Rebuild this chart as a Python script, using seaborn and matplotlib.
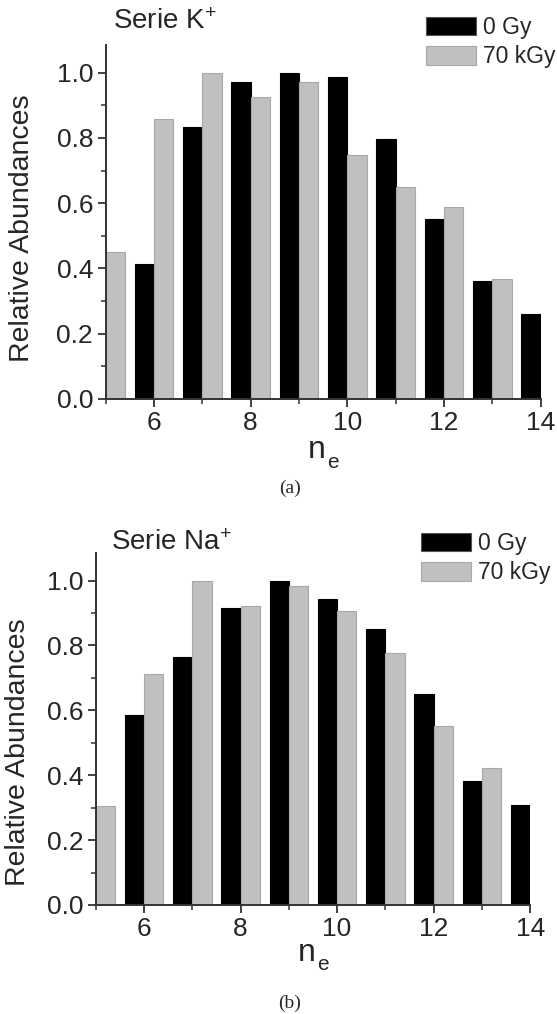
import numpy as np
import pandas as pd
import matplotlib
matplotlib.use("Agg")
import matplotlib.pyplot as plt
from matplotlib.patches import Patch
from matplotlib.ticker import MultipleLocator
import seaborn as sns

# ---- data ----
ne_0gy = [6, 7, 8, 9, 10, 11, 12, 13, 14]
ne_70kgy = [5, 6, 7, 8, 9, 10, 11, 12, 13]

k_0gy = [0.414, 0.833, 0.972, 1.000, 0.987, 0.798, 0.553, 0.363, 0.262]
k_70kgy = [0.452, 0.858, 1.000, 0.926, 0.972, 0.747, 0.650, 0.588, 0.369]

na_0gy = [0.586, 0.765, 0.916, 1.000, 0.944, 0.850, 0.649, 0.381, 0.307]
na_70kgy = [0.304, 0.712, 1.000, 0.921, 0.984, 0.905, 0.778, 0.552, 0.422]

doses = ["0 Gy", "70 kGy"]
x_ticks = [6, 8, 10, 12, 14]
y_ticks = [0.0, 0.2, 0.4, 0.6, 0.8, 1.0]

face = {"0 Gy": "#000000", "70 kGy": "#c0c0c0"}
edge = {"0 Gy": "#000000", "70 kGy": "#a8a8a8"}

sns.set_style("ticks")
plt.rcParams["font.family"] = ["Liberation Sans", "DejaVu Sans"]
plt.rcParams["mathtext.default"] = "regular"

W, H = 557, 1014


def make_frame(v0, v70):
    # 0 Gy bar sits just left of n_e, 70 kGy bar just right of it
    d0 = pd.DataFrame({"pos": np.array(ne_0gy) - 0.2, "val": v0, "dose": doses[0]})
    d1 = pd.DataFrame({"pos": np.array(ne_70kgy) + 0.2, "val": v70, "dose": doses[1]})
    return pd.concat([d0, d1], ignore_index=True)


def draw_panel(fig, rect, v0, v70, title, caption, px):
    # px: pixel positions for texts (title x, title y, legend x, legend y,
    #     ylabel x, ylabel y, xlabel y, caption y)
    ax = fig.add_axes(rect)
    df = make_frame(v0, v70)
    sns.barplot(data=df, x="pos", y="val", hue="dose", hue_order=doses,
                palette=face, native_scale=True, dodge=False, width=1.0,
                errorbar=None, saturation=1, legend=False, ax=ax)
    for cont, d in zip(ax.containers, doses):
        for bar in cont:
            bar.set_edgecolor(edge[d])
            bar.set_linewidth(0.8)

    ax.set_xlim(5, 14)
    ax.set_ylim(0, 1.085)
    ax.set_xticks(x_ticks)
    ax.set_xticklabels([str(t) for t in x_ticks])
    ax.set_yticks(y_ticks)
    ax.set_yticklabels([f"{t:.1f}" for t in y_ticks])
    ax.xaxis.set_minor_locator(MultipleLocator(1))
    ax.yaxis.set_minor_locator(MultipleLocator(0.1))
    ax.tick_params(which="major", direction="out", length=6, width=1.3,
                   color="#333333", labelsize=19, pad=3)
    ax.tick_params(which="minor", direction="out", length=3.5, width=1.1,
                   color="#333333")
    for s in ["top", "right"]:
        ax.spines[s].set_visible(False)
    for s in ["left", "bottom"]:
        ax.spines[s].set_linewidth(1.4)
        ax.spines[s].set_color("#333333")

    ax.set_xlabel("")
    ax.set_ylabel("")
    fig.text(px[4] / W, 1 - px[5] / H, "Relative Abundances", rotation=90,
             ha="center", va="center", fontsize=20.5)
    # n with a deep subscript e
    xc = (rect[0] + rect[2] / 2) * W
    fig.text((xc + 3) / W, 1 - px[6] / H, "n", ha="right", va="center", fontsize=23)
    fig.text((xc + 4) / W, 1 - (px[6] + 12) / H, "e", ha="left", va="center", fontsize=15)
    fig.text(0.52, 1 - px[7] / H, caption, ha="center", va="center",
             fontsize=14, family=["Liberation Serif", "DejaVu Serif"])
    fig.text(px[0] / W, 1 - px[1] / H, title, ha="left", va="center", fontsize=20)

    handles = [Patch(facecolor=face[d], edgecolor=edge[d] if d != "0 Gy" else "#555555",
                     linewidth=0.8) for d in doses]
    ax.legend(handles=handles, labels=doses, loc="upper left",
              bbox_to_anchor=(px[2] / W, 1 - px[3] / H), bbox_transform=fig.transFigure,
              frameon=False, fontsize=16.5, handlelength=2.2, handleheight=0.85,
              handletextpad=0.3, labelspacing=0.28, borderpad=0, borderaxespad=0)
    return ax


fig = plt.figure(figsize=(5.57, 10.14), dpi=100)

# panel (a): K+ series
draw_panel(fig, [105.6 / W, 1 - 399 / H, 435 / W, 354 / H],
           k_0gy, k_70kgy, "Serie K$^{+}$", "(a)",
           [113, 22, 426, 16, 22, 228, 450, 488])

# panel (b): Na+ series
draw_panel(fig, [95.7 / W, 1 - 905 / H, 434.5 / W, 352 / H],
           na_0gy, na_70kgy, "Serie Na$^{+}$", "(b)",
           [111, 543, 421, 532, 18, 752, 953, 1003])

fig.savefig("out.png", dpi=100, facecolor="white")
